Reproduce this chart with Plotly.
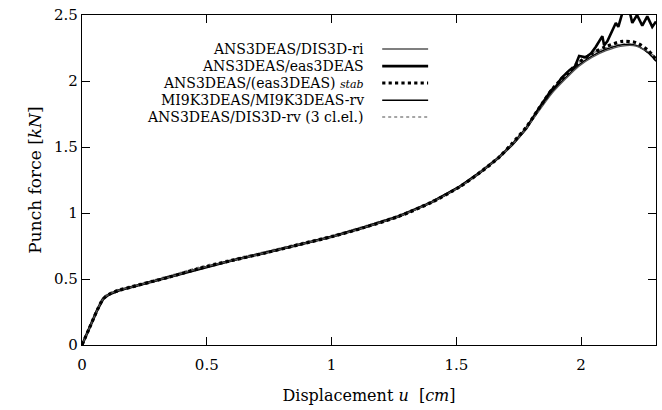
import plotly.graph_objects as go

# ---- data ----
u_base = [0, 0.03, 0.06, 0.085, 0.11, 0.15, 0.2, 0.27, 0.35, 0.47, 0.6, 0.74, 0.87, 1.0,
          1.13, 1.27, 1.4, 1.51, 1.59, 1.67, 1.725, 1.78, 1.83, 1.885, 1.94, 1.99,
          2.045, 2.1, 2.165, 2.22, 2.27, 2.3]
f_ri = [0, 0.13, 0.26, 0.35, 0.385, 0.415, 0.44, 0.475, 0.515, 0.58, 0.64, 0.70, 0.76, 0.82,
        0.89, 0.975, 1.08, 1.195, 1.30, 1.42, 1.52, 1.64, 1.77, 1.91, 2.02, 2.11,
        2.18, 2.23, 2.265, 2.265, 2.22, 2.18]
f_mi9 = [0, 0.13, 0.26, 0.35, 0.385, 0.415, 0.44, 0.475, 0.515, 0.58, 0.64, 0.70, 0.76, 0.82,
         0.89, 0.975, 1.08, 1.195, 1.30, 1.42, 1.52, 1.64, 1.78, 1.92, 2.03, 2.12,
         2.19, 2.24, 2.275, 2.27, 2.21, 2.15]
f_stab = [0, 0.13, 0.26, 0.35, 0.385, 0.415, 0.44, 0.475, 0.515, 0.58, 0.64, 0.70, 0.76, 0.82,
          0.89, 0.975, 1.08, 1.195, 1.30, 1.42, 1.53, 1.65, 1.79, 1.94, 2.05, 2.14,
          2.21, 2.26, 2.30, 2.29, 2.23, 2.16]
f_3cl = [0, 0.14, 0.27, 0.36, 0.395, 0.425, 0.45, 0.485, 0.525, 0.59, 0.65, 0.71, 0.77, 0.83,
         0.90, 0.985, 1.09, 1.20, 1.31, 1.43, 1.53, 1.65, 1.79, 1.93, 2.05, 2.14,
         2.21, 2.25, 2.28, 2.27, 2.21, 2.15]

u_eas = [0, 0.03, 0.06, 0.085, 0.11, 0.15, 0.2, 0.27, 0.35, 0.47, 0.6, 0.74, 0.87, 1.0,
         1.13, 1.27, 1.4, 1.51, 1.59, 1.67, 1.725, 1.78, 1.83, 1.86, 1.88, 1.90, 1.92,
         1.952, 1.975, 1.992, 2.019, 2.04, 2.059, 2.085, 2.092, 2.105, 2.139, 2.149,
         2.172, 2.19, 2.205, 2.224, 2.245, 2.265, 2.285, 2.3]
f_eas = [0, 0.13, 0.26, 0.35, 0.385, 0.415, 0.44, 0.475, 0.515, 0.58, 0.64, 0.70, 0.76, 0.82,
         0.89, 0.975, 1.08, 1.195, 1.30, 1.42, 1.52, 1.64, 1.79, 1.87, 1.93, 1.96, 2.02,
         2.08, 2.11, 2.19, 2.18, 2.21, 2.26, 2.34, 2.27, 2.30, 2.44, 2.41,
         2.56, 2.56, 2.44, 2.50, 2.42, 2.49, 2.41, 2.45]

series_names = ["ANS3DEAS/DIS3D-ri", "ANS3DEAS/eas3DEAS",
                "ANS3DEAS/(eas3DEAS) <i><span style='font-size:11px'>stab</span></i>",
                "MI9K3DEAS/MI9K3DEAS-rv", "ANS3DEAS/DIS3D-rv (3 cl.el.)"]
x_ticks = [0, 0.5, 1, 1.5, 2]
x_tick_text = ["0", "0.5", "1", "1.5", "2"]
y_ticks = [0, 0.5, 1, 1.5, 2, 2.5]
y_tick_text = ["0", "0.5", "1", "1.5", "2", "2.5"]

styles = [
    dict(color="#555555", width=1.3, dash="solid"),
    dict(color="black", width=2.6, dash="solid"),
    dict(color="black", width=3.2, dash="dot"),
    dict(color="black", width=1.5, dash="solid"),
    dict(color="#888888", width=1.5, dash="dot"),
]

fig = go.Figure()
data = [(u_base, f_3cl), (u_base, f_mi9), (u_eas, f_eas), (u_base, f_ri), (u_base, f_stab)]
order = [4, 3, 1, 0, 2]
for (xs, ys), idx in zip(data, order):
    shape = "linear" if idx == 1 else "spline"
    fig.add_trace(go.Scatter(x=xs, y=ys, mode="lines",
                             line=dict(**styles[idx], shape=shape, smoothing=0.8),
                             name=series_names[idx], showlegend=False))

FONT = "DejaVu Serif"
row_y = [0.897, 0.845, 0.794, 0.742, 0.691]
for i, name in enumerate(series_names):
    fig.add_annotation(xref="paper", yref="paper", x=0.495, y=row_y[i], text=name,
                       showarrow=False, xanchor="right", yanchor="middle",
                       font=dict(family=FONT, size=14, color="black"))
    fig.add_shape(type="line", xref="paper", yref="paper", x0=0.523, x1=0.603,
                  y0=row_y[i], y1=row_y[i], line=styles[i])

axis_common = dict(showline=True, linecolor="black", linewidth=1.2, mirror="ticks",
                   ticks="inside", ticklen=8, tickcolor="black", tickwidth=1,
                   showgrid=False, zeroline=False,
                   tickfont=dict(family=FONT, size=15, color="black"))

fig.update_xaxes(range=[0, 2.3], tickvals=x_ticks, ticktext=x_tick_text,
                 ticklabelstandoff=6,
                 title=dict(text="Displacement <i>u</i>  [<i>cm</i>]",
                            font=dict(family=FONT, size=16, color="black"), standoff=16),
                 **axis_common)
fig.update_yaxes(range=[0, 2.5], tickvals=y_ticks, ticktext=y_tick_text,
                 title=dict(text="Punch force [<i>kN</i>]",
                            font=dict(family=FONT, size=17, color="black"), standoff=8),
                 **axis_common)

fig.update_layout(width=662, height=410, margin=dict(l=82, r=6, t=15, b=65),
                  plot_bgcolor="white", paper_bgcolor="white", showlegend=False)

fig.write_html("out.html")
